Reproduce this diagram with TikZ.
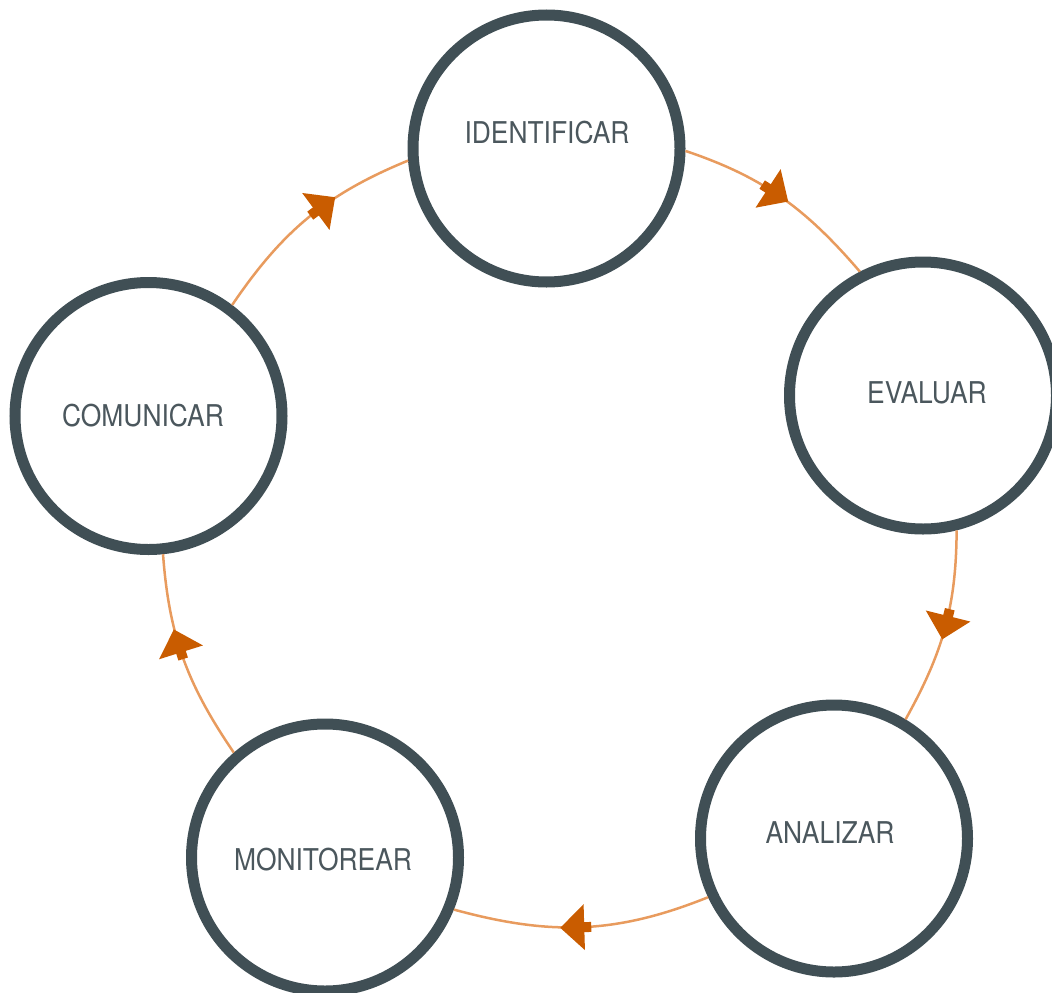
\documentclass[tikz,border=0pt]{standalone}
\usepackage{fontspec}
\setmainfont{TeX Gyre Heros}[FakeStretch=0.88]
\usetikzlibrary{decorations.markings}
\definecolor{ringc}{HTML}{404F55}
\definecolor{connc}{HTML}{E89B5E}
\definecolor{arrc}{HTML}{C95C00}
\definecolor{txtc}{HTML}{4B575D}
\begin{document}
\begin{tikzpicture}[x=1pt,y=1pt,
  stage/.style={circle, draw=ringc, line width=11pt, fill=white,
    minimum size=267pt, inner sep=0pt, outer sep=5.5pt},
  lbl/.style={font=\fontsize{30pt}{30pt}\selectfont, text=txtc, inner sep=0pt, text depth=0pt},
  conn/.style={draw=connc, line width=2.5pt, postaction={decorate},
    decoration={markings, mark=at position #1 with {
      \fill[arrc] (-6,-23) -- (18,0) -- (-6,23) -- cycle;
      \fill[arrc] (-13,-5) rectangle (-5,5);}}},
  conn/.default=0.5]
\useasboundingbox (0,0) rectangle (1052,-993);
\clip (0,0) rectangle (1052,-993);
\node[stage] (ID) at (546.5,-148.5) {};
\node[stage] (EV) at (923,-395.5) {};
\node[stage] (AN) at (834,-838.5) {};
\node[stage] (MO) at (325,-857.5) {};
\node[stage] (CO) at (148.5,-416) {};
\node[lbl] (tID) at (547,-132.5) {IDENTIFICAR};
\node[lbl] (tEV) at (927,-393) {EVALUAR};
\node[lbl] (tAN) at (830,-833) {ANALIZAR};
\node[lbl] (tMO) at (323,-859) {MONITOREAR};
\node[lbl] (tCO) at (143,-415) {COMUNICAR};
\draw[conn=0.45] (ID.-1.8) to[out=-18.6, in=130.7] (EV.117.8);
\draw[conn=0.465] (EV.-76.6) to[out=-90.3, in=60.9] (AN.59.1);
\draw[conn=0.515] (AN.-155.5) to[out=-158.1, in=-15.3] (MO.-22.7);
\draw[conn=0.56] (MO.131.4) to[out=124.3, in=-85.8] (CO.-84.1);
\draw[conn=0.57] (CO.53.0) to[out=55.8, in=-157.7] (ID.-175.2);
\end{tikzpicture}
\end{document}
